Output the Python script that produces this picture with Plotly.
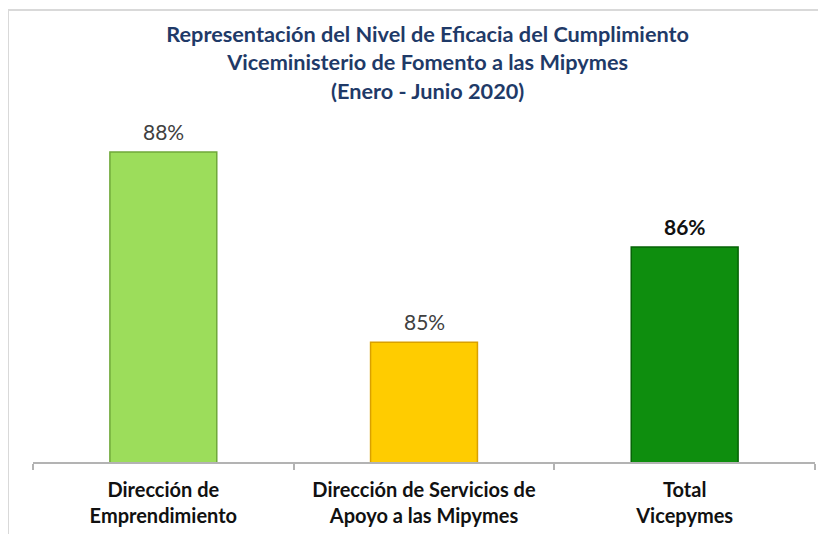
import plotly.graph_objects as go

categories = ["Dirección de<br>Emprendimiento",
              "Dirección de Servicios de<br>Apoyo a las Mipymes",
              "Total<br>Vicepymes"]
values = [87.9, 84.6, 86.25]
labels = ["88%", "85%", "<b>86%</b>"]
fill_colors = ["#9CDD5B", "#FFCC00", "#0E8E0E"]
edge_colors = ["#6FA83A", "#D9A000", "#066306"]
label_colors = ["#404040", "#404040", "#111111"]

fig = go.Figure()
fig.add_trace(go.Bar(
    x=categories, y=values,
    marker=dict(color=fill_colors, line=dict(color=edge_colors, width=1.5)),
    hoverinfo="skip",
))

for c, v, t, col in zip(categories, values, labels, label_colors):
    fig.add_annotation(x=c, y=v, text=t, showarrow=False, yanchor="bottom",
                       yshift=6, font=dict(family="Lato", size=21, color=col))

fig.update_layout(
    width=818, height=526,
    margin=dict(l=25, r=11, t=102, b=72, autoexpand=False),
    paper_bgcolor="white", plot_bgcolor="white",
    bargap=0.59,
    showlegend=False,
    title=dict(
        text="<b>Representación del Nivel de Eficacia del Cumplimiento<br>"
             "Viceministerio de Fomento a las Mipymes<br>(Enero - Junio 2020)</b>",
        x=0.513, xanchor="center", y=0.935, yanchor="top",
        font=dict(family="Lato", size=21.7, color="#1F3A68"),
    ),
    xaxis=dict(
        showline=True, linecolor="#B3B3B3", linewidth=1.5,
        ticks="outside", tickson="boundaries", ticklen=6, tickcolor="#B3B3B3",
        tickwidth=1.5, ticklabelstandoff=9, automargin=False,
        tickfont=dict(family="Lato", size=20, color="#111111", weight="bold"),
        showgrid=False,
    ),
    yaxis=dict(range=[82.52, 88.63], visible=False, showgrid=False),
    shapes=[dict(type="rect", xref="paper", yref="paper",
                 x0=-0.032, x1=1.2, y0=-0.5, y1=1.284,
                 line=dict(color="#D9D9D9", width=2), layer="below")],
)

fig.write_html("out.html")
